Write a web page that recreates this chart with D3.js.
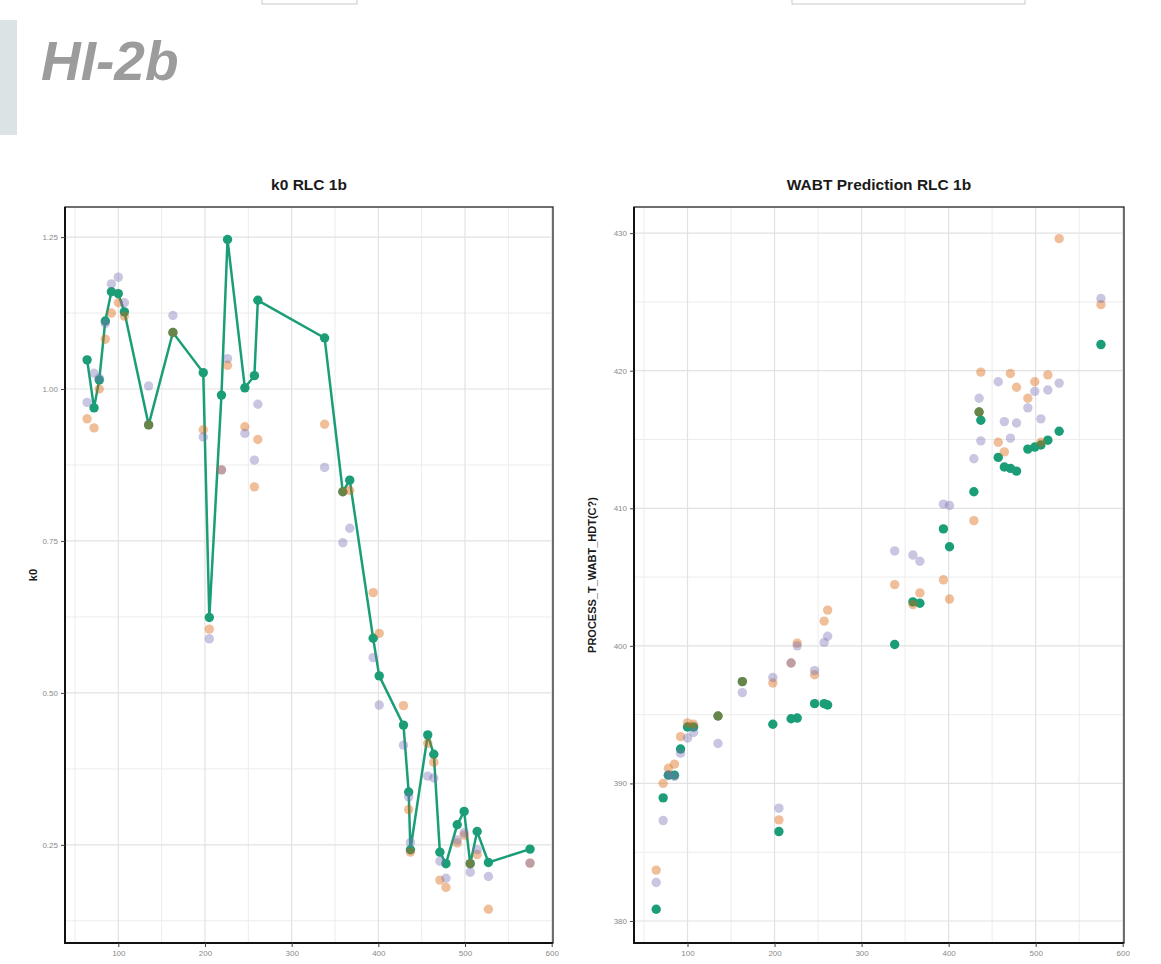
<!DOCTYPE html>
<html lang="en">

<head>
    <meta charset="UTF-8">
    <title>HI-2b</title>
    <style>
        body { margin: 0; background: #fff; }
        text { font-family: "Liberation Sans", Arial, sans-serif; }
    </style>
</head>

<body>
    <svg id="svg" width="1161" height="964"></svg>

    <script src="https://d3js.org/d3.v7.min.js"></script>
    <script>
        // shared x values (both panels)
        const xVals = [64, 72, 78, 85, 92, 100, 107, 135, 163, 198, 205, 219, 226, 246, 257, 261, 338, 359, 367,
            394, 401, 429, 435, 437, 457, 464, 471, 478, 491, 499, 506, 514, 527, 575]

        // k0 RLC 1b
        const k0Green = [1.048, 0.969, 1.015, 1.112, 1.160, 1.157, 1.127, 0.941, 1.093, 1.027, 0.624, 0.990, 1.246,
            1.002, 1.022, 1.146, 1.084, 0.831, 0.850, 0.590, 0.528, 0.447, 0.337, 0.242, 0.431, 0.399, 0.238, 0.219,
            0.283, 0.305, 0.219, 0.272, 0.221, 0.243]
        const k0Orange = [0.951, 0.936, 1.000, 1.082, 1.125, 1.142, 1.120, 0.941, 1.093, 0.933, 0.605, 0.867, 1.039,
            0.938, 0.839, 0.917, 0.942, 0.831, 0.833, 0.665, 0.598, 0.479, 0.308, 0.238, 0.417, 0.386, 0.192, 0.180,
            0.253, 0.266, 0.219, 0.234, 0.144, 0.220]
        const k0Purple = [0.978, 1.026, 1.018, 1.108, 1.173, 1.184, 1.142, 1.005, 1.121, 0.921, 0.589, 0.867, 1.050,
            0.927, 0.883, 0.975, 0.871, 0.747, 0.771, 0.558, 0.480, 0.414, 0.329, 0.254, 0.363, 0.360, 0.223, 0.195,
            0.258, 0.270, 0.205, 0.242, 0.198, 0.220]

        // WABT Prediction RLC 1b
        const wabtGreen = [380.85, 388.95, 390.6, 390.6, 392.5, 394.1, 394.1, 394.9, 397.4, 394.3, 386.5, 394.7, 394.75,
            395.8, 395.8, 395.7, 400.1, 403.2, 403.1, 408.5, 407.2, 411.2, 417.0, 416.4, 413.7, 413.0, 412.9, 412.7,
            414.3, 414.45, 414.6, 414.95, 415.6, 421.9]
        const wabtOrange = [383.7, 390.0, 391.1, 391.4, 393.4, 394.4, 394.3, 394.9, 397.4, 397.3, 387.35, 398.75, 400.2,
            397.9, 401.8, 402.6, 404.45, 403.0, 403.85, 404.8, 403.4, 409.1, 417.0, 419.9, 414.8, 414.1, 419.8, 418.8,
            418.0, 419.2, 414.8, 419.7, 429.6, 424.8]
        const wabtPurple = [382.8, 387.3, 390.6, 390.5, 392.2, 393.3, 393.7, 392.9, 396.6, 397.7, 388.2, 398.75, 400.0,
            398.2, 400.25, 400.7, 406.9, 406.6, 406.15, 410.3, 410.2, 413.6, 418.0, 414.9, 419.2, 416.3, 415.1, 416.2,
            417.3, 418.5, 416.5, 418.6, 419.1, 425.25]

        const k0Ticks = [0.25, 0.50, 0.75, 1.00, 1.25]
        const wabtTicks = [380, 390, 400, 410, 420, 430]
        const xTicks = [100, 200, 300, 400, 500, 600]

        const green = '#1b9e77', orange = '#d95f02', purple = '#7570b3'

        const svg = d3.select('#svg')

        // leftovers of the page above
        svg.append('rect').attr('x', 262).attr('y', -20).attr('width', 95).attr('height', 24)
            .attr('fill', '#fff').attr('stroke', '#c8c8c8')
        svg.append('rect').attr('x', 792).attr('y', -20).attr('width', 233).attr('height', 24)
            .attr('fill', '#fff').attr('stroke', '#c8c8c8')

        // header
        svg.append('rect').attr('x', 0).attr('y', 20).attr('width', 17).attr('height', 115).attr('fill', '#dce3e5')
        svg.append('text').attr('x', 41).attr('y', 80)
            .style('font-size', '55px').style('font-weight', 'bold').style('font-style', 'italic')
            .attr('fill', '#9c9c9c').text('HI-2b')

        function panel(opts) {
            const x = d3.scaleLinear().domain([38.5, 601.5]).range([opts.left, opts.right])
            const y = d3.scaleLinear().domain(opts.yDomain).range([943, 207])
            const g = svg.append('g')

            // grid: minor then major
            const xMinor = d3.range(50, 601, 50).filter(v => v % 100 !== 0)
            const yMinor = opts.yTicks.slice(0, -1).map((t, i) => (t + opts.yTicks[i + 1]) / 2)
            const step = opts.yTicks[1] - opts.yTicks[0]
            yMinor.unshift(opts.yTicks[0] - step / 2)
            yMinor.push(opts.yTicks[opts.yTicks.length - 1] + step / 2)

            g.selectAll('.xminor').data(xMinor).enter().append('line')
                .attr('x1', d => x(d)).attr('x2', d => x(d)).attr('y1', 207).attr('y2', 943)
                .attr('stroke', '#ececec').attr('stroke-width', 1)
            g.selectAll('.yminor').data(yMinor.filter(v => y(v) > 207 && y(v) < 943)).enter().append('line')
                .attr('x1', opts.left).attr('x2', opts.right).attr('y1', d => y(d)).attr('y2', d => y(d))
                .attr('stroke', '#ececec').attr('stroke-width', 1)
            g.selectAll('.xmajor').data(xTicks).enter().append('line')
                .attr('x1', d => x(d)).attr('x2', d => x(d)).attr('y1', 207).attr('y2', 943)
                .attr('stroke', '#e2e2e2').attr('stroke-width', 1.2)
            g.selectAll('.ymajor').data(opts.yTicks).enter().append('line')
                .attr('x1', opts.left).attr('x2', opts.right).attr('y1', d => y(d)).attr('y2', d => y(d))
                .attr('stroke', '#e2e2e2').attr('stroke-width', 1.2)

            const data = xVals.map((v, i) => ({ x: v, g: opts.green[i], o: opts.orange[i], p: opts.purple[i] }))

            if (opts.line) {
                g.append('path').datum(data)
                    .attr('fill', 'none').attr('stroke', green).attr('stroke-width', 2.5)
                    .attr('d', d3.line().x(d => x(d.x)).y(d => y(d.g)))
            }
            g.selectAll('.pg').data(data).enter().append('circle')
                .attr('cx', d => x(d.x)).attr('cy', d => y(d.g)).attr('r', 4.7).attr('fill', green)
            g.selectAll('.po').data(data).enter().append('circle')
                .attr('cx', d => x(d.x)).attr('cy', d => y(d.o)).attr('r', 4.7).attr('fill', orange).attr('opacity', 0.4)
            g.selectAll('.pp').data(data).enter().append('circle')
                .attr('cx', d => x(d.x)).attr('cy', d => y(d.p)).attr('r', 4.7).attr('fill', purple).attr('opacity', 0.4)

            // border
            g.append('rect').attr('x', opts.left).attr('y', 207)
                .attr('width', opts.right - opts.left).attr('height', 736)
                .attr('fill', 'none').attr('stroke', '#222').attr('stroke-width', 1.3)
            g.append('path').attr('d', `M${opts.left},207V943H${opts.right}`)
                .attr('fill', 'none').attr('stroke', '#111').attr('stroke-width', 2)

            // axes
            const xAxis = g.append('g').attr('transform', 'translate(0,943)')
                .call(d3.axisBottom(x).tickValues(xTicks).tickSize(4).tickPadding(3).tickFormat(d3.format('d')))
            const yAxis = g.append('g').attr('transform', `translate(${opts.left},0)`)
                .call(d3.axisLeft(y).tickValues(opts.yTicks).tickSize(4).tickPadding(3).tickFormat(opts.fmt))
            for (const a of [xAxis, yAxis]) {
                a.select('.domain').remove()
                a.selectAll('.tick line').attr('stroke', '#444')
                a.selectAll('.tick text').attr('fill', '#8a8a8a').style('font-size', '8px')
                    .style('font-family', '"Liberation Sans", Arial, sans-serif')
            }

            // titles
            svg.append('text').attr('x', (opts.left + opts.right) / 2).attr('y', 190)
                .attr('text-anchor', 'middle').style('font-size', '15.5px').style('font-weight', 'bold')
                .attr('fill', '#1a1a1a').text(opts.title)
            svg.append('text').attr('transform', `translate(${opts.ylx},575) rotate(-90)`)
                .attr('text-anchor', 'middle').style('font-size', '11px').style('font-weight', 'bold')
                .attr('fill', '#1a1a1a').text(opts.ylabel)
        }

        panel({
            left: 65, right: 553, yDomain: [0.0885, 1.2995], yTicks: k0Ticks, fmt: d3.format('.2f'),
            green: k0Green, orange: k0Orange, purple: k0Purple, line: true,
            title: 'k0 RLC 1b', ylabel: 'k0', ylx: 37
        })
        panel({
            left: 634, right: 1124, yDomain: [378.4, 431.9], yTicks: wabtTicks, fmt: d3.format('d'),
            green: wabtGreen, orange: wabtOrange, purple: wabtPurple, line: false,
            title: 'WABT Prediction RLC 1b', ylabel: 'PROCESS_T_WABT_HDT(C?)', ylx: 596
        })
    </script>
</body>

</html>
